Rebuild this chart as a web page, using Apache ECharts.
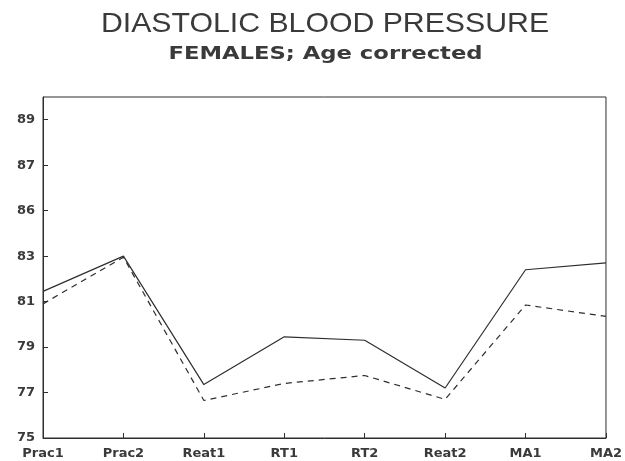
<!DOCTYPE html>
<html>
<head>
<meta charset="utf-8">
<script src="https://cdn.jsdelivr.net/npm/echarts@6/dist/echarts.min.js"></script>
<style>
  html, body { margin: 0; padding: 0; background: #fff; }
  #chart { width: 625px; height: 461px; }
</style>
</head>
<body>
<div id="chart"></div>
<script>
// conditions along the x axis
var categories = ['Prac1', 'Prac2', 'Reat1', 'RT1', 'RT2', 'Reat2', 'MA1', 'MA2'];
// solid line
var solidValues = [81.45, 83.0, 77.35, 79.45, 79.3, 77.2, 82.4, 82.7];
// dashed line
var dashedValues = [80.9, 82.95, 76.65, 77.4, 77.75, 76.7, 80.85, 80.35];
// y ticks and the labels printed at them (the scan reads 86 at the 85 tick)
var yTicks = [75, 77, 79, 81, 83, 85, 87, 89];
var yTickLabels = ['75', '77', '79', '81', '83', '86', '87', '89'];

var ink = '#2e2e2e';
var textInk = '#3a3a3a';
var labelFont = 'DejaVu Sans';

var chart = echarts.init(document.getElementById('chart'));

var option = {
  backgroundColor: '#ffffff',
  animation: false,
  // titles as graphic texts so they can be stretched to the wide old typeface
  graphic: [{
    type: 'text',
    x: 325,
    y: 24.5,
    scaleX: 1.08,
    style: {
      text: 'DIASTOLIC BLOOD PRESSURE',
      font: 'normal 28px "Liberation Sans"',
      fill: textInk,
      align: 'center',
      verticalAlign: 'middle'
    }
  }, {
    type: 'text',
    x: 325.5,
    y: 54,
    scaleX: 1.26,
    style: {
      text: 'FEMALES; Age corrected',
      font: 'bold 18px "DejaVu Sans"',
      fill: textInk,
      align: 'center',
      verticalAlign: 'middle'
    }
  }],
  grid: {
    left: 43,
    right: 17,
    top: 97,
    bottom: 23,
    show: true,
    borderColor: ink,
    borderWidth: 1
  },
  xAxis: {
    type: 'category',
    data: categories,
    boundaryGap: false,
    axisLine: { lineStyle: { color: ink, width: 1 } },
    axisTick: { inside: true, length: 5, lineStyle: { color: ink } },
    axisLabel: {
      interval: 0,
      margin: 9,
      fontFamily: labelFont,
      fontSize: 13,
      fontWeight: 'bold',
      color: textInk
    },
    splitLine: { show: false }
  },
  yAxis: {
    type: 'value',
    min: 75,
    max: 90,
    axisLine: { show: true, lineStyle: { color: ink, width: 1 } },
    axisTick: {
      show: true,
      inside: true,
      length: 5,
      customValues: yTicks,
      lineStyle: { color: ink }
    },
    axisLabel: {
      customValues: yTicks,
      margin: 8,
      fontFamily: labelFont,
      fontSize: 13,
      fontWeight: 'bold',
      color: textInk,
      formatter: function (v) {
        var i = yTicks.indexOf(v);
        return i >= 0 ? yTickLabels[i] : '';
      }
    },
    splitLine: { show: false }
  },
  series: [{
    type: 'line',
    data: solidValues,
    symbol: 'none',
    lineStyle: { color: ink, width: 1.2, type: 'solid' }
  }, {
    type: 'line',
    data: dashedValues,
    symbol: 'none',
    lineStyle: { color: ink, width: 1.2, type: [6, 5] }
  }]
};

chart.setOption(option);
</script>
</body>
</html>
